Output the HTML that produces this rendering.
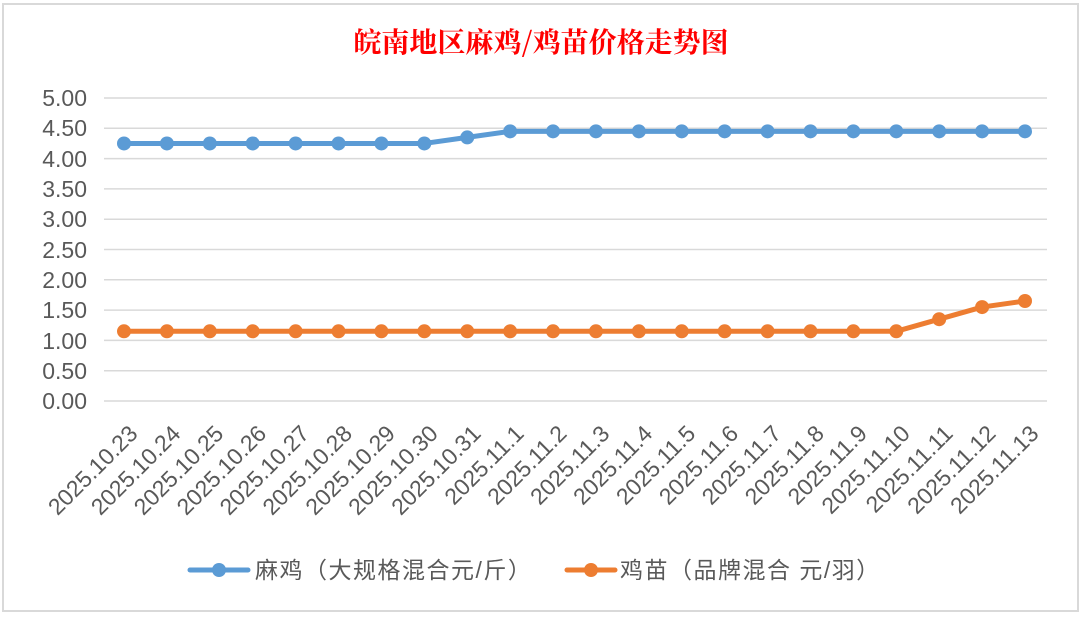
<!DOCTYPE html>
<html><head><meta charset="utf-8"><style>
body{margin:0;width:1082px;height:615px;background:#fff;overflow:hidden}
</style></head><body>
<svg width="1082" height="615" xmlns="http://www.w3.org/2000/svg" font-family="Liberation Sans, Noto Sans CJK SC, sans-serif">
<rect x="3" y="4" width="1075" height="607" fill="#fff" stroke="#d9d9d9" stroke-width="2"/>
<text x="541" y="52" text-anchor="middle" fill="#ff0000" font-size="28" font-weight="bold" font-family="Noto Serif CJK SC, serif">皖南地区麻鸡/鸡苗价格走势图</text>
<g stroke="#d9d9d9" stroke-width="1.5">
<line x1="104" x2="1047" y1="98" y2="98"/><line x1="104" x2="1047" y1="128.3" y2="128.3"/>
<line x1="104" x2="1047" y1="158.6" y2="158.6"/><line x1="104" x2="1047" y1="188.9" y2="188.9"/>
<line x1="104" x2="1047" y1="219.2" y2="219.2"/><line x1="104" x2="1047" y1="249.5" y2="249.5"/>
<line x1="104" x2="1047" y1="279.8" y2="279.8"/><line x1="104" x2="1047" y1="310.1" y2="310.1"/>
<line x1="104" x2="1047" y1="340.4" y2="340.4"/><line x1="104" x2="1047" y1="370.7" y2="370.7"/>
<line x1="104" x2="1047" y1="401" y2="401"/>
</g>
<g fill="#595959" font-size="23" text-anchor="end">
<text x="87" y="106">5.00</text><text x="87" y="136">4.50</text><text x="87" y="167">4.00</text>
<text x="87" y="197">3.50</text><text x="87" y="227">3.00</text><text x="87" y="258">2.50</text>
<text x="87" y="288">2.00</text><text x="87" y="318">1.50</text><text x="87" y="349">1.00</text>
<text x="87" y="379">0.50</text><text x="87" y="409">0.00</text>
</g>
<g id="xl" fill="#595959" font-size="23" text-anchor="end"></g>
<polyline id="b" fill="none" stroke="#5b9bd5" stroke-width="5" stroke-linejoin="round"/>
<polyline id="o" fill="none" stroke="#ed7d31" stroke-width="5" stroke-linejoin="round"/>
<g id="m"></g>
<line x1="190" x2="248" y1="570" y2="570" stroke="#5b9bd5" stroke-width="5" stroke-linecap="round"/>
<circle cx="219" cy="570" r="7" fill="#5b9bd5"/>
<text x="255" y="578" fill="#595959" font-size="23" letter-spacing="1.5">麻鸡（大规格混合元/斤）</text>
<line x1="567" x2="615" y1="570" y2="570" stroke="#ed7d31" stroke-width="5" stroke-linecap="round"/>
<circle cx="591" cy="570" r="7" fill="#ed7d31"/>
<text x="620" y="578" fill="#595959" font-size="23" letter-spacing="1.5">鸡苗（品牌混合 元/羽）</text>
</svg>
<script>
var labels=["2025.10.23","2025.10.24","2025.10.25","2025.10.26","2025.10.27","2025.10.28","2025.10.29","2025.10.30","2025.10.31","2025.11.1","2025.11.2","2025.11.3","2025.11.4","2025.11.5","2025.11.6","2025.11.7","2025.11.8","2025.11.9","2025.11.10","2025.11.11","2025.11.12","2025.11.13"];
var b=[4.25,4.25,4.25,4.25,4.25,4.25,4.25,4.25,4.35,4.45,4.45,4.45,4.45,4.45,4.45,4.45,4.45,4.45,4.45,4.45,4.45,4.45];
var o=[1.15,1.15,1.15,1.15,1.15,1.15,1.15,1.15,1.15,1.15,1.15,1.15,1.15,1.15,1.15,1.15,1.15,1.15,1.15,1.35,1.55,1.65];
var NS="http://www.w3.org/2000/svg";
function X(i){return 124+i*(1025-124)/21}
function Y(v){return 401-v*60.6}
var pb=[],po=[],m=document.getElementById('m'),xl=document.getElementById('xl');
for(var i=0;i<22;i++){
pb.push(X(i)+","+Y(b[i]));po.push(X(i)+","+Y(o[i]));
[[b,'#5b9bd5'],[o,'#ed7d31']].forEach(function(s){var c=document.createElementNS(NS,'circle');c.setAttribute('cx',X(i));c.setAttribute('cy',Y(s[0][i]));c.setAttribute('r',7);c.setAttribute('fill',s[1]);m.appendChild(c);});
var t=document.createElementNS(NS,'text');var tx=X(i)+15,ty=435;t.setAttribute('x',tx);t.setAttribute('y',ty);t.setAttribute('transform','rotate(-45 '+tx+' '+ty+')');t.textContent=labels[i];xl.appendChild(t);
}
document.getElementById('b').setAttribute('points',pb.join(' '));
document.getElementById('o').setAttribute('points',po.join(' '));
</script>
</body></html>
